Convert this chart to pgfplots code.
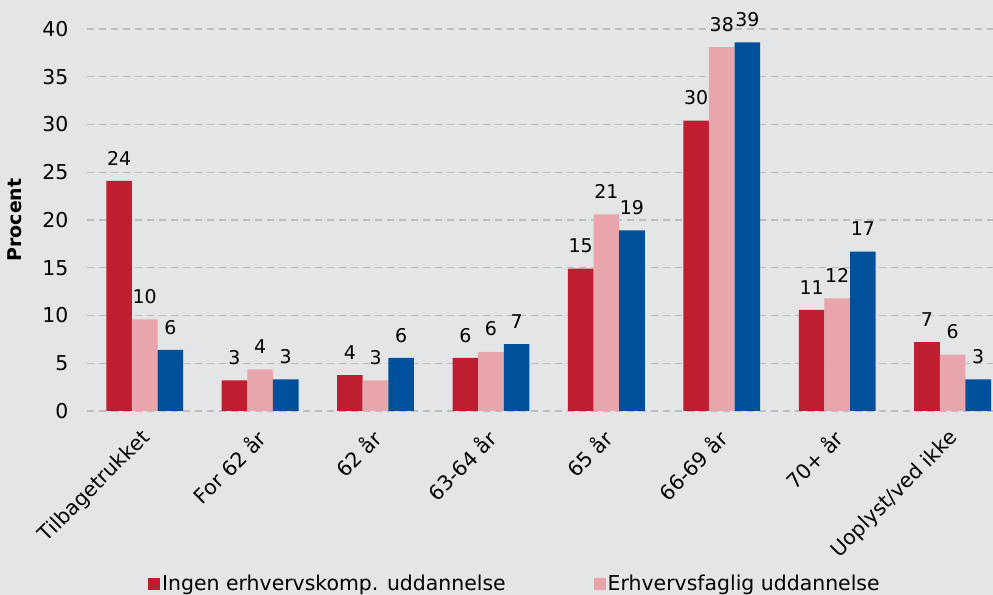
\documentclass[border=0pt]{standalone}
\usepackage{pgfplots}
\pgfplotsset{compat=1.18}
\usepackage{fontspec}
\setmainfont{DejaVu Sans}
\definecolor{bg}{HTML}{E4E5E7}
\definecolor{cred}{HTML}{BE1E2F}
\definecolor{cpink}{HTML}{E8A5AB}
\definecolor{cblue}{HTML}{00509B}
\definecolor{gridc}{HTML}{BDBDBF}
\begin{document}
\begin{tikzpicture}[x=1bp,y=1bp]
\path[use as bounding box, fill=bg] (0,0) rectangle (993,595);
\begin{axis}[
  at={(87bp,184bp)}, anchor=south west,
  scale only axis, width=906bp, height=382bp,
  xmin=-0.5, xmax=7.35, ymin=0, ymax=40,
  clip=false,
  axis line style={draw=none},
  ytick={0,5,...,40},
  xtick={0,...,7},
  xticklabels={Tilbagetrukket,For 62 år,62 år,63-64 år,65 år,66-69 år,70+ år,Uoplyst/ved ikke},
  major tick length=0pt,
  ymajorgrids,
  grid style={color=gridc, line width=1.3bp, dash pattern=on 7bp off 5bp},
  font=\fontsize{20.5}{24}\selectfont,
  /pgf/number format/assume math mode=true,
  yticklabel style={anchor=east, xshift=-15bp},
  xticklabel style={rotate=45, anchor=north east, xshift=-12bp, yshift=-5bp},
  ylabel={\textbf{Procent}},
  ylabel style={at={(ticklabel cs:0.5)}, anchor=south, yshift=14bp, font=\fontsize{19}{22}\selectfont},
  ybar, bar width=0.222,
  nodes near coords={\pgfmathprintnumber[fixed,precision=0]{\pgfplotspointmeta}},
  every node near coord/.append style={font=\fontsize{19}{23}\selectfont, yshift=12bp, /pgf/number format/assume math mode=true},
  legend style={at={(rel axis cs:0.0673,-0.453)}, anchor=north west, yshift=11bp, draw=none, fill=none, inner sep=0pt,
    font=\fontsize{20.5}{24}\selectfont,
    /tikz/every even column/.append style={column sep=86bp}},
  legend columns=2,
  legend image code/.code={\fill[#1] (0bp,-6bp) rectangle (12bp,6bp);},
  legend cell align=left,
]
\addplot[fill=cred, draw=none, bar shift=-0.222] coordinates {(0,24.1) (1,3.2) (2,3.75) (3,5.55) (4,14.9) (5,30.4) (6,10.6) (7,7.2)};
\addplot[fill=cpink, draw=none, bar shift=0] coordinates {(0,9.6) (1,4.35) (2,3.2) (3,6.2) (4,20.6) (5,38.1) (6,11.8) (7,5.9)};
\addplot[fill=cblue, draw=none, bar shift=0.222] coordinates {(0,6.4) (1,3.3) (2,5.55) (3,7.0) (4,18.9) (5,38.6) (6,16.7) (7,3.3)};
\legend{Ingen erhvervskomp. uddannelse, Erhvervsfaglig uddannelse, Videregående uddannelse}
\end{axis}
\end{tikzpicture}
\end{document}
